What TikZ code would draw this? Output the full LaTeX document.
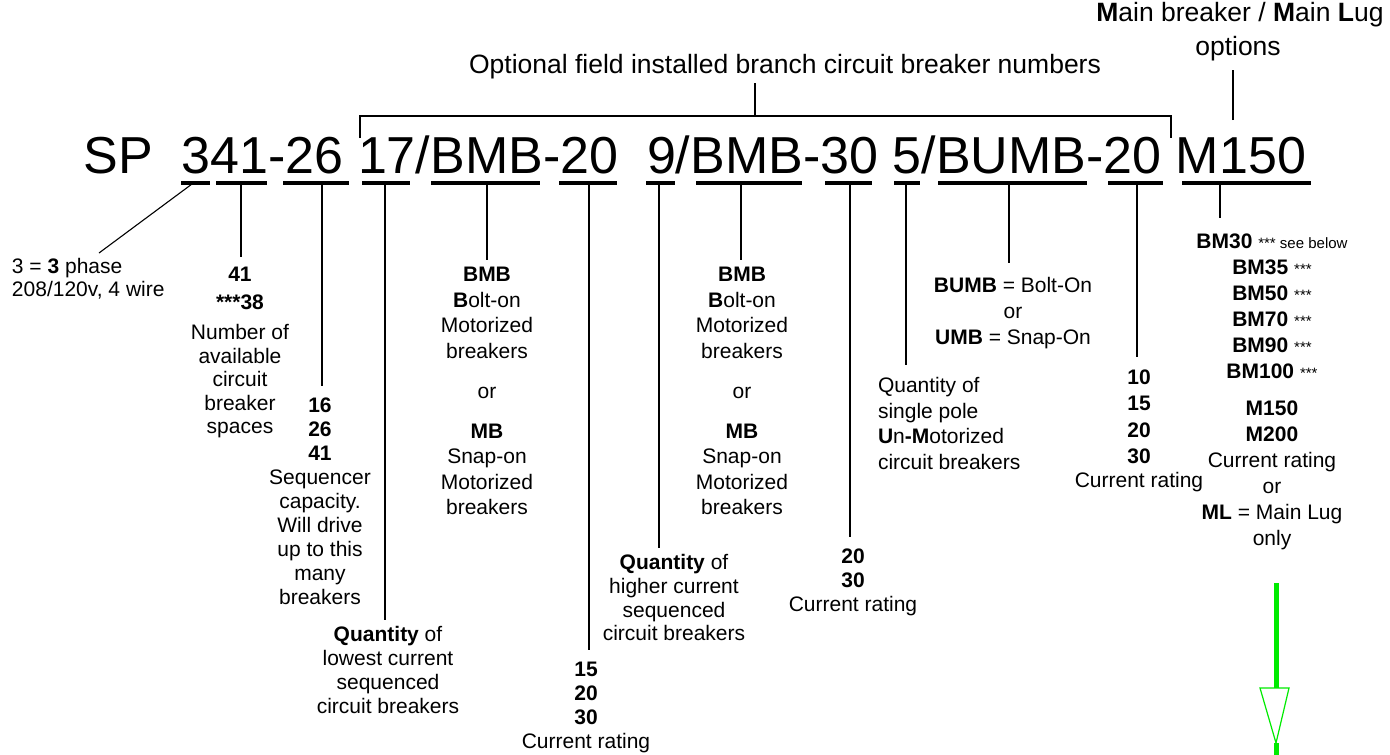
\documentclass[tikz,border=0pt]{standalone}
\usepackage{fontspec}
\setmainfont{Liberation Sans}
\usetikzlibrary{calc}
\definecolor{arrowgreen}{RGB}{0,235,0}
\newcommand{\smtxt}[1]{{\fontsize{15}{15}\selectfont #1}}
\begin{document}
\begin{tikzpicture}[x=1pt,y=-1pt,
  desc/.style={inner sep=0pt, outer sep=0pt, align=center, anchor=north, font=\fontsize{21}{24}\selectfont},
  toplbl/.style={inner sep=0pt, outer sep=0pt, align=center, font=\fontsize{26.5}{34}\selectfont},
  codetext/.style={inner sep=0pt, outer sep=0pt, font=\fontsize{52}{60}\selectfont},
  conn/.style={line width=1.1pt, black},
  uline/.style={line width=3.2pt, black},
  greenline/.style={line width=5pt, arrowgreen},
  greenhead/.style={line width=1.2pt, draw=arrowgreen, fill=white}]
\useasboundingbox (0,0) rectangle (1390,755);

% top labels
\node[toplbl, anchor=base] (opt) at (785,73) {Optional field installed branch circuit breaker numbers};
\node[toplbl, anchor=base] (mbl) at (1240,21) {\textbf{M}ain breaker / \textbf{M}ain \textbf{L}ug};
\node[toplbl, anchor=base] (mblo) at (1238,55) {options};

% code string
\node[codetext, anchor=base west] (code) at (83.5,173) {SP\hspace{0.556em}341-26 17/BMB-20\hspace{0.556em}9/BMB-30 5/BUMB-20 M150};

% bracket
\coordinate (bl) at (360,138);
\coordinate (br) at (1171,138);
\coordinate (bm) at (755,116);
\draw[conn] (bl) -- (bl |- bm) -- (br |- bm) -- (br);
\draw[conn, shorten >=4pt] (bm) -- (bm |- opt.south);
\coordinate (mt) at (1233,120);
\draw[conn, shorten >=9.5pt] (mt) -- (mt |- mblo.south);

% underlines
\foreach \a/\b in {181/210,216/267,283/349,362/410,431/540,559/617,646/675,696/802,825/872,894/920,938/1087,1108/1163,1182/1311}
  \draw[uline] (\a,183) -- (\b,183);

% connector start points on underlines
\coordinate (c3) at (192,184);
\coordinate (c41) at (241,183);
\coordinate (c26) at (322,183);
\coordinate (c17) at (385,183);
\coordinate (cbmba) at (487,183);
\coordinate (c20a) at (589,183);
\coordinate (c9) at (659,183);
\coordinate (cbmbb) at (741,183);
\coordinate (c30) at (850,183);
\coordinate (c5) at (906,183);
\coordinate (cbumb) at (1009,183);
\coordinate (c20b) at (1137,183);
\coordinate (cm) at (1220,183);

% description nodes
\node[desc, anchor=north west, align=left, font=\fontsize{21}{23}\selectfont] (phase) at (12,258.5) {3 = \textbf{3} phase\\208/120v, 4 wire};
\coordinate (phend) at (99,253);

\node[desc, font=\fontsize{21}{23.5}\selectfont] (spaces) at (240,267.5) {\textbf{41}\\[4.5pt]\textbf{***38}\\[6.5pt]Number of\\available\\circuit\\breaker\\spaces};

\node[desc] (seq) at (320,397.5) {\textbf{16}\\\textbf{26}\\\textbf{41}\\Sequencer\\capacity.\\Will drive\\up to this\\many\\breakers};

\node[desc, font=\fontsize{21}{25.5}\selectfont] (bmba) at (487,267.5) {\textbf{BMB}\\\textbf{B}olt-on\\Motorized\\breakers\\[14.5pt]or\\[14.5pt]\textbf{MB}\\Snap-on\\Motorized\\breakers};

\node[desc] (qlow) at (388,626.5) {\textbf{Quantity} of\\lowest current\\sequenced\\circuit breakers};

\node[desc] (cra) at (586,662.5) {\textbf{15}\\\textbf{20}\\\textbf{30}\\Current rating};

\node[desc, font=\fontsize{21}{25.5}\selectfont] (bmbb) at (742,267.5) {\textbf{BMB}\\\textbf{B}olt-on\\Motorized\\breakers\\[14.5pt]or\\[14.5pt]\textbf{MB}\\Snap-on\\Motorized\\breakers};

\node[desc, font=\fontsize{21}{23.7}\selectfont] (qhigh) at (674,554.5) {\textbf{Quantity} of\\higher current\\sequenced\\circuit breakers};

\node[desc] (crb) at (853,548.5) {\textbf{20}\\\textbf{30}\\Current rating};

\node[desc, font=\fontsize{21}{26}\selectfont] (bumb) at (1013,277.5) {\textbf{BUMB} = Bolt-On\\or\\\textbf{UMB} = Snap-On};

\node[desc, anchor=north west, align=left, font=\fontsize{21}{25.5}\selectfont] (qsingle) at (878,377.5) {Quantity of\\single pole\\\textbf{U}n\textbf{-M}otorized\\circuit breakers};

\node[desc, font=\fontsize{21}{26.5}\selectfont] (crc) at (1139,369.5) {\textbf{10}\\\textbf{15}\\\textbf{20}\\\textbf{30}\\[-2.5pt]Current rating};

\node[desc, font=\fontsize{21}{26}\selectfont] (mopt) at (1272,233.5) {\textbf{BM30} \smtxt{*** see below}\\\textbf{BM35} \smtxt{***}\\\textbf{BM50} \smtxt{***}\\\textbf{BM70} \smtxt{***}\\\textbf{BM90} \smtxt{***}\\\textbf{BM100} \smtxt{***}\\[11pt]\textbf{M150}\\\textbf{M200}\\Current rating\\or\\\textbf{ML} = Main Lug\\only};

% connectors
\draw[conn] (c3) -- (phend);
\draw[conn, shorten >=10.5pt] (c41) -- (c41 |- spaces.north);
\draw[conn, shorten >=11.5pt] (c26) -- (c26 |- seq.north);
\draw[conn, shorten >=6.5pt] (c17) -- (c17 |- qlow.north);
\draw[conn, shorten >=7.5pt] (cbmba) -- (cbmba |- bmba.north);
\draw[conn, shorten >=12.5pt] (c20a) -- (c20a |- cra.north);
\draw[conn, shorten >=6.5pt] (c9) -- (c9 |- qhigh.north);
\draw[conn, shorten >=7.5pt] (cbmbb) -- (cbmbb |- bmbb.north);
\draw[conn, shorten >=11.5pt] (c30) -- (c30 |- crb.north);
\draw[conn, shorten >=12.5pt] (c5) -- (c5 |- qsingle.north);
\draw[conn, shorten >=14.5pt] (cbumb) -- (cbumb |- bumb.north);
\draw[conn, shorten >=12.5pt] (c20b) -- (c20b |- crc.north);
\draw[conn, shorten >=15.5pt] (cm) -- (cm |- mopt.north);

% green arrow
\coordinate (ga) at (1276,583);
\coordinate (gh) at (1276,688);
\coordinate (gt) at (1276,743);
\coordinate (gb) at (1276,755);
\draw[greenline] (ga) -- (gh);
\draw[greenline] (gt) -- (gb);
\draw[greenhead] ($(gh)+(-16,0)$) -- ($(gh)+(13,0)$) -- (gt) -- cycle;
\end{tikzpicture}
\end{document}
